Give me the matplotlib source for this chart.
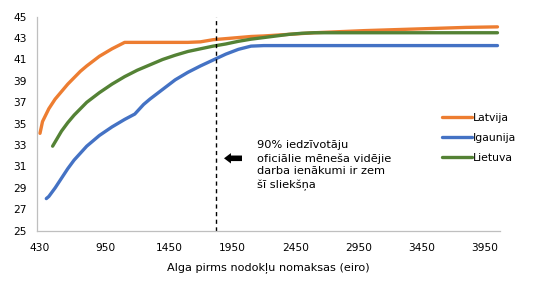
import matplotlib
matplotlib.use("Agg")
import matplotlib.pyplot as plt
import numpy as np

# data
lv_x = [430, 450, 500, 550, 600, 650, 700, 750, 800, 900, 1000, 1100, 1200, 1400, 1600,
        1700, 1800, 1900, 2000, 2100, 2200, 2400, 2600, 2800, 3000, 3400, 3800, 4050]
lv_y = [34.1, 35.2, 36.4, 37.3, 38.0, 38.7, 39.3, 39.9, 40.4, 41.3, 42.0, 42.6, 42.6, 42.6, 42.6,
        42.65, 42.85, 42.95, 43.05, 43.15, 43.2, 43.35, 43.5, 43.6, 43.7, 43.85, 44.0, 44.05]

ee_x = [480, 500, 550, 600, 650, 700, 800, 900, 1000, 1100, 1180, 1250, 1300, 1400,
        1500, 1600, 1700, 1800, 1900, 2000, 2100, 2200, 3000, 4050]
ee_y = [28.0, 28.2, 29.0, 29.9, 30.8, 31.6, 32.9, 33.9, 34.7, 35.4, 35.9, 36.8, 37.3, 38.2,
        39.1, 39.8, 40.4, 40.95, 41.5, 41.95, 42.25, 42.3, 42.3, 42.3]

lt_x = [530, 550, 600, 650, 700, 800, 900, 1000, 1100, 1200, 1300, 1400, 1500, 1600,
        1700, 1800, 1900, 2000, 2100, 2200, 2300, 2400, 2500, 2600, 4050]
lt_y = [32.9, 33.3, 34.3, 35.1, 35.8, 37.0, 37.9, 38.7, 39.4, 40.0, 40.5, 41.0, 41.4, 41.75,
        42.0, 42.25, 42.45, 42.7, 42.9, 43.05, 43.2, 43.35, 43.45, 43.5, 43.5]

threshold = 1820
x_ticks = [430, 950, 1450, 1950, 2450, 2950, 3450, 3950]
y_ticks = list(range(25, 46, 2))

W, H = 533, 282
fig = plt.figure(figsize=(W / 100, H / 100), dpi=100)
ax = fig.add_axes([36.7 / W, 1 - 230.7 / H, (500 - 36.7) / W, (230.7 - 16.7) / H])

ax.plot(lv_x, lv_y, color='#ED7D31', lw=2.4, label='Latvija', solid_capstyle='round')
ax.plot(ee_x, ee_y, color='#4472C4', lw=2.4, label='Igaunija', solid_capstyle='round')
ax.plot(lt_x, lt_y, color='#548235', lw=2.4, label='Lietuva', solid_capstyle='round')
ax.axvline(threshold, color='black', lw=1.0, ls=(0, (3, 2.5)))

ax.set_xlim(404, 4070)
ax.set_ylim(25, 45)
ax.set_xticks(x_ticks)
ax.set_yticks(y_ticks)
ax.tick_params(length=0, labelsize=7.7, colors='#000000')
ax.tick_params(axis='y', pad=7)
ax.tick_params(axis='x', pad=8.5)
for s in ['top', 'right']:
    ax.spines[s].set_visible(False)
for s in ['left', 'bottom']:
    ax.spines[s].set_color('#BFBFBF')
    ax.spines[s].set_linewidth(0.9)
ax.set_xlabel('Alga pirms nodokļu nomaksas (eiro)', fontsize=8.1, labelpad=7)

ax.text(256.7 / W, 1 - 140 / H,
        '90% iedzīvotāju\noficiālie mēneša vidējie\ndarba ienākumi ir zem\nšī sliekšņa',
        transform=fig.transFigure, fontsize=8.2, va='top', ha='left', linespacing=1.36)
ax.annotate('', xy=(224 / W, 1 - 158.3 / H), xytext=(242 / W, 1 - 158.3 / H),
            xycoords=fig.transFigure, textcoords=fig.transFigure,
            arrowprops=dict(arrowstyle='simple,head_length=0.5,head_width=0.75,tail_width=0.4',
                            color='black', lw=0, shrinkA=0, shrinkB=0))

fig.legend(loc='upper left', bbox_to_anchor=(441.7 / W, 1 - 113 / H), frameon=False,
           fontsize=7.8, handlelength=2.8, handletextpad=0.05, labelspacing=0.9,
           borderpad=0, borderaxespad=0)

fig.savefig('out.png', dpi=100)
